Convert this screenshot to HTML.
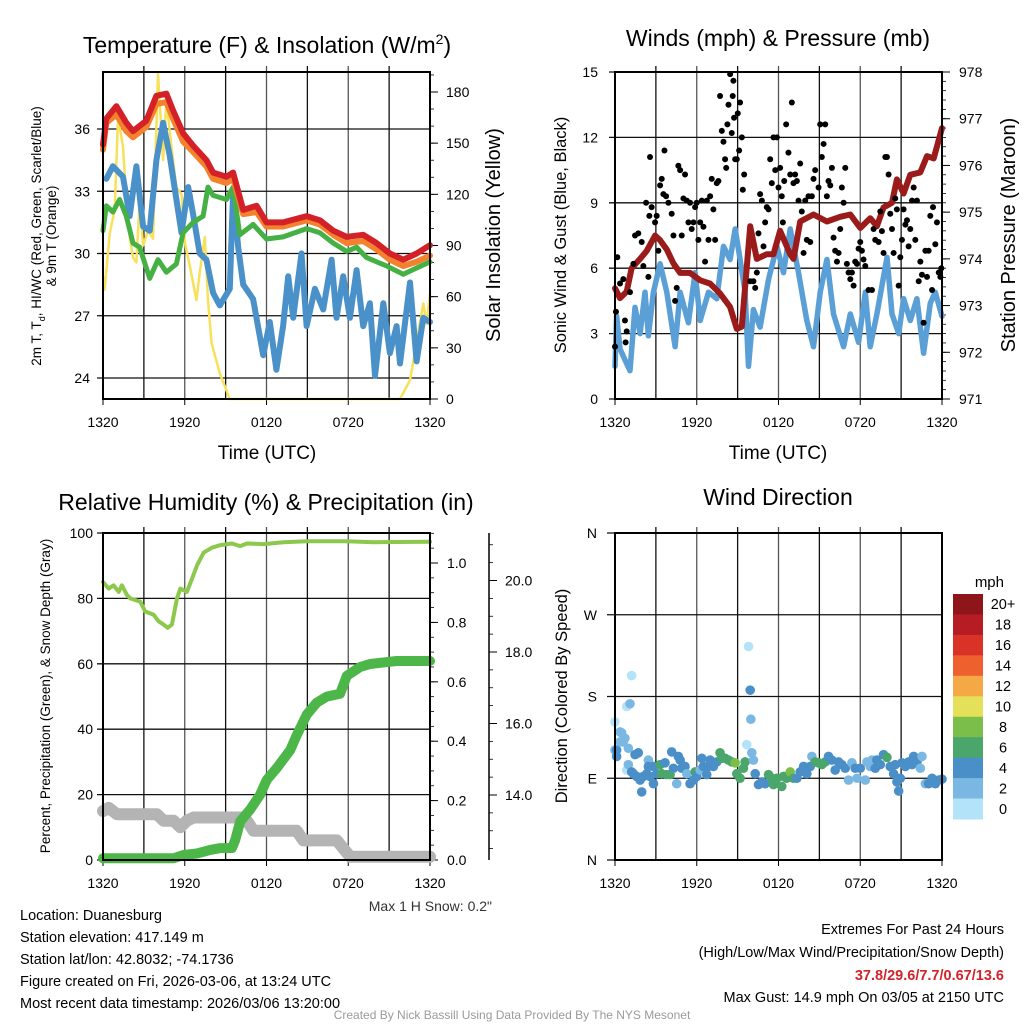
<!DOCTYPE html>
<html><head><meta charset="utf-8"><title>Mesonet Station Meteogram</title>
<style>
html,body{margin:0;padding:0;background:#fff;}
svg{display:block;font-family:"Liberation Sans",Arial,sans-serif;}
</style></head>
<body>
<svg id="chart" width="1024" height="1024" viewBox="0 0 1024 1024" xmlns="http://www.w3.org/2000/svg">
<rect x="0" y="0" width="1024" height="1024" fill="#fff"/>
<g id="layer"></g>
<text x="267" y="53" font-size="23" text-anchor="middle">Temperature (F) &amp; Insolation (W/m<tspan font-size="14" dy="-9">2</tspan><tspan dy="9">)</tspan></text>
<text x="778" y="46" font-size="23" text-anchor="middle">Winds (mph) &amp; Pressure (mb)</text>
<text x="266" y="510" font-size="23" text-anchor="middle">Relative Humidity (%) &amp; Precipitation (in)</text>
<text x="778" y="505" font-size="23" text-anchor="middle">Wind Direction</text>
<text x="267" y="459" font-size="19" text-anchor="middle">Time (UTC)</text>
<text x="778" y="459" font-size="19" text-anchor="middle">Time (UTC)</text>
<text transform="translate(41,236) rotate(-90)" font-size="13.5" text-anchor="middle">2m T, T<tspan font-size="9" dy="4">d</tspan><tspan dy="-4">, HI/WC (Red, Green, Scarlet/Blue)</tspan></text>
<text transform="translate(56,236) rotate(-90)" font-size="13.5" text-anchor="middle">&amp; 9m T (Orange)</text>
<text transform="translate(500,235) rotate(-90)" font-size="20" text-anchor="middle">Solar Insolation (Yellow)</text>
<text transform="translate(566,235) rotate(-90)" font-size="16.5" text-anchor="middle">Sonic Wind &amp; Gust (Blue, Black)</text>
<text transform="translate(1015,235) rotate(-90)" font-size="20" text-anchor="middle">Station Pressure (Maroon)</text>
<text transform="translate(50,696) rotate(-90)" font-size="13.5" text-anchor="middle">Percent, Precipitation (Green), &amp; Snow Depth (Gray)</text>
<text transform="translate(567,696) rotate(-90)" font-size="16.5" text-anchor="middle">Direction (Colored By Speed)</text>
<text x="1004" y="587" font-size="15" text-anchor="end">mph</text>
<text x="492" y="911" font-size="14" text-anchor="end" fill="#333">Max 1 H Snow: 0.2"</text>
<g font-size="14.5">
<text x="20" y="920">Location: Duanesburg</text>
<text x="20" y="942">Station elevation: 417.149 m</text>
<text x="20" y="964">Station lat/lon: 42.8032; -74.1736</text>
<text x="20" y="986">Figure created on Fri, 2026-03-06, at 13:24 UTC</text>
<text x="20" y="1008">Most recent data timestamp: 2026/03/06 13:20:00</text>
</g>
<g font-size="14.5" text-anchor="end">
<text x="1004" y="934">Extremes For Past 24 Hours</text>
<text x="1004" y="957">(High/Low/Max Wind/Precipitation/Snow Depth)</text>
<text x="1004" y="980" fill="#d3232a" font-weight="bold">37.8/29.6/7.7/0.67/13.6</text>
<text x="1004" y="1002">Max Gust: 14.9 mph On 03/05 at 2150 UTC</text>
</g>
<text x="512" y="1019" font-size="12" fill="#9a9a9a" text-anchor="middle">Created By Nick Bassill Using Data Provided By The NYS Mesonet</text>
</svg>
<script>
// ---------- data ----------
const timeTickLabels = ["1320","1920","0120","0720","1320"];
// panel 1
const tempTicks = [24,27,30,33,36];
const solarTicks = [0,30,60,90,120,150,180];
const tempHours = [0,.24,.98,1.71,2.2,3.18,3.92,4.65,5.14,5.88,6.61,7.59,8.08,9.06,9.55,10.29,11.27,12.0,13.22,14.94,15.92,16.9,17.88,19.1,20.08,21.06,22.04,23.02,24];
const tempValues = [35.25,36.5,37.1,36.3,35.9,36.4,37.6,37.7,36.9,35.8,35.2,34.5,33.9,33.7,33.9,32.1,32.3,31.5,31.5,31.8,31.6,31.1,30.8,30.9,30.5,30.0,29.7,30.0,30.4];
const temp9mValues = [35.0,36.3,36.7,35.9,35.6,36.1,37.2,37.3,36.5,35.4,34.9,34.2,33.6,33.4,33.6,31.9,32.0,31.3,31.3,31.6,31.4,30.9,30.5,30.6,30.2,29.7,29.4,29.6,29.9];
const dewHours = [0,.24,.73,1.22,1.71,2.2,2.69,3.43,4.04,4.65,5.39,5.88,6.61,7.35,7.71,8.08,9.06,9.55,10.04,11.02,12.0,13.22,14.94,15.92,16.9,17.88,18.61,19.35,20.82,22.04,23.02,24];
const dewValues = [31.1,32.3,32.0,32.6,31.8,30.5,30.3,28.8,29.7,29.1,29.5,31.0,31.5,31.8,33.2,32.8,32.6,33.2,30.9,31.4,30.7,30.8,31.2,31.0,30.5,30.1,30.3,29.8,29.4,29.0,29.3,29.6];
const wcHours = [.24,.73,1.47,1.96,2.45,2.94,3.43,3.92,4.41,4.9,5.39,5.76,6.25,6.61,7.1,7.59,8.08,8.57,9.31,9.55,9.92,10.29,11.02,11.76,12.24,12.73,13.22,13.59,13.96,14.57,14.94,15.55,16.16,16.78,17.14,17.63,18.12,18.61,19.1,19.59,19.96,20.57,21.06,21.55,21.8,22.53,23.02,23.51,24];
const wcValues = [33.6,34.2,33.7,31.8,34.2,31.3,31.1,34.5,36.3,34.7,32.6,31.0,33.2,31.9,30.0,29.7,28.1,27.5,28.3,33.0,30.3,28.5,27.8,25.1,26.7,24.4,26.5,28.9,26.9,30.0,26.5,28.3,27.3,29.7,26.9,28.9,26.9,29.2,26.5,27.6,24.1,27.6,25.2,26.5,24.7,28.6,24.8,26.9,26.7];
const solarHours = [0,.12,.49,.86,1.1,1.47,1.84,2.2,2.45,2.69,2.94,3.31,3.67,4.04,4.41,4.65,5.02,5.39,5.76,6.0,6.37,6.86,7.1,7.47,7.71,7.96,8.57,9.31,21.8,22.53,23.51,23.75,24];
const solarValues = [72,64,97,111,165,148,101,83,80,117,90,99,94,191,140,175,148,124,120,92,78,58,74,95,58,33,15,0,0,11,56,44,62];
// panel 2
const windTicks = [0,3,6,9,12,15];
const presTicks = [971,972,973,974,975,976,977,978];
const presHours = [0,.37,.86,1.22,1.84,2.33,2.94,3.31,3.8,4.29,4.78,5.51,6.25,6.98,7.71,8.45,8.94,9.31,9.92,10.41,11.14,11.63,12.12,12.86,13.1,13.59,14.57,15.55,16.53,17.27,18.0,18.73,19.22,19.71,20.33,20.69,21.18,21.67,22.41,22.9,23.39,24];
const presValues = [973.37,973.16,973.3,973.8,974.0,974.17,974.5,974.4,974.2,973.9,973.7,973.7,973.54,973.47,973.26,972.97,972.5,972.55,974.7,974.0,974.1,974.1,974.6,974.1,974.0,974.8,974.95,974.8,974.9,974.95,974.66,974.87,974.7,975.1,975.2,975.7,975.4,975.8,975.85,976.2,976.15,976.8];
const windHours = [0,.12,.37,.73,1.1,1.47,1.84,2.2,2.45,2.82,3.31,3.8,4.41,4.78,5.39,5.88,6.25,6.86,7.47,7.96,8.45,8.82,9.18,9.55,9.8,10.16,10.65,11.27,11.88,12.37,12.86,13.47,14.08,14.57,15.06,15.55,16.04,16.78,17.27,17.88,18.37,18.73,19.22,19.96,20.33,20.82,21.18,21.67,22.16,22.65,23.14,23.51,24];
const windValues = [1.5,3.8,2.3,1.8,1.3,4.2,3.0,4.9,2.9,4.9,6.2,4.9,2.4,4.9,3.5,5.8,3.6,4.9,4.6,7.0,6.4,7.8,6.4,4.9,1.5,4.1,3.3,5.5,7.0,5.8,7.8,5.8,3.6,2.4,4.9,6.4,3.9,2.4,3.9,2.6,4.9,2.4,3.9,6.5,3.9,3.0,4.6,3.6,4.6,2.1,4.4,4.9,3.8];
const gustHours = [0,.07,.17,.37,.61,.73,.78,.86,1.10,1.35,1.47,1.71,1.96,2.08,2.28,2.45,2.52,2.57,2.69,2.94,3.06,3.18,3.31,3.43,3.55,3.63,3.75,3.92,4.16,4.29,4.41,4.53,4.65,4.78,4.90,5.02,5.14,5.27,5.39,5.51,5.63,5.76,5.88,6.00,6.12,6.25,6.37,6.49,6.61,6.74,6.86,6.98,7.10,7.22,7.35,7.47,7.59,7.71,7.84,7.96,8.08,8.16,8.25,8.33,8.45,8.57,8.64,8.69,8.74,8.82,8.94,9.01,9.11,9.18,9.31,9.38,9.48,9.92,10.16,10.29,10.41,10.53,10.65,10.78,10.90,11.02,11.14,11.27,11.39,11.51,11.63,11.76,11.88,12.0,12.12,12.24,12.32,12.42,12.56,12.73,12.86,12.98,13.1,13.22,13.35,13.47,13.59,13.71,13.84,13.96,14.08,14.2,14.33,14.45,14.57,14.69,14.94,15.06,15.18,15.31,15.43,15.55,15.67,15.8,15.92,16.04,16.16,16.29,16.41,16.53,16.65,16.78,16.9,17.02,17.14,17.27,17.39,17.51,17.63,17.76,17.88,18.0,18.12,18.24,18.37,18.61,18.86,18.98,19.1,19.35,19.47,19.59,19.71,19.84,19.96,20.08,20.2,20.33,20.45,20.57,20.69,20.82,20.94,21.06,21.18,21.31,21.43,21.55,21.67,21.8,21.92,22.04,22.16,22.29,22.41,22.53,22.65,22.78,22.9,23.02,23.14,23.27,23.34,23.51,23.63,23.76,23.88,23.95];
const gustValues = [2.4,4.0,6.5,5.3,5.5,3.6,2.6,3.1,4.9,6.2,7.5,7.6,7.2,6.1,9.0,5.6,8.4,11.1,8.8,8.1,8.4,6.8,9.8,10.1,9.4,11.4,9.3,9.0,8.5,7.5,4.5,5.1,10.7,10.5,7.5,9.2,10.3,9.1,8.1,9.0,7.8,8.1,8.8,9.0,7.3,8.1,9.1,7.9,6.3,9.1,7.3,9.3,10.1,8.7,7.3,9.9,10.0,13.9,12.3,11.8,11.0,10.6,12.6,13.5,14.9,12.2,13.9,14.6,12.9,11.0,11.0,13.1,11.4,13.6,12.0,9.6,10.3,5.4,5.4,5.1,5.8,7.6,9.4,9.1,7.0,8.1,8.8,8.7,11.0,9.9,12.0,10.5,12.0,9.7,10.6,9.3,8.1,10.0,12.6,11.3,10.3,13.6,9.9,10.3,10.0,9.1,10.8,8.6,6.7,9.1,7.3,9.3,7.2,9.3,10.1,10.5,9.7,12.6,11.1,11.7,12.6,9.3,10.0,9.8,10.6,7.4,6.8,6.3,6.7,7.8,9.7,9.0,10.6,6.2,5.8,5.5,5.8,5.2,6.3,6.2,6.9,7.2,6.8,6.4,6.1,5.0,5.0,7.8,7.3,7.2,8.6,7.7,6.7,11.1,11.1,10.3,8.5,7.8,6.7,9.2,8.7,5.2,6.5,7.3,8.7,8.0,8.2,7.0,7.8,9.1,9.7,7.3,9.1,5.4,6.3,5.7,3.5,6.8,5.6,6.8,8.4,5.0,8.8,7.1,8.1,5.8,5.6,6.0];
// panel 3
const pctTicks = [0,20,40,60,80,100];
const precipTicks = [0.0,0.2,0.4,0.6,0.8,1.0];
const snowTicks = [14.0,16.0,18.0,20.0];
const rhHours = [0,.42,.78,1.15,1.39,1.76,2.0,2.74,3.1,3.72,4.08,4.45,4.74,5.06,5.43,5.67,6.16,6.53,6.89,7.38,7.99,8.6,9.46,10.07,10.56,11.78,13.25,14.96,17.89,19.85,24];
const rhValues = [85,83,84,82,84,81,80,79,76,75,73,72,71,72,80,83,82,86,90,94,95.5,96.3,96.8,96,96.8,96.6,97.2,97.5,97.5,97.2,97.3];
const precipHours = [0,5.18,5.91,6.89,7.87,8.6,9.46,9.7,10.07,10.8,11.53,12.02,12.76,13.74,14.22,14.96,15.69,16.42,17.4,17.89,18.87,19.6,21.55,24];
const precipValues = [.006,.006,.017,.022,.034,.04,.04,.067,.13,.17,.22,.27,.31,.37,.42,.49,.53,.55,.56,.62,.65,.66,.67,.67];
const snowHours = [0,.42,1.03,2.0,3.96,4.45,5.18,5.67,6.16,6.65,10.31,10.56,11.05,14.22,14.71,17.16,18.14,24];
const snowValues = [13.55,13.64,13.46,13.46,13.46,13.28,13.28,13.1,13.28,13.37,13.37,13.28,13.0,13.0,12.73,12.73,12.27,12.27];
// panel 4
const dirTickLabels = ["N","E","S","W","N"];
const dirHours = [0,0,.12,.12,.37,.49,.37,.61,.73,.86,1.10,1.22,.98,.86,.98,1.22,1.35,1.47,1.71,1.59,1.84,1.96,2.08,2.33,2.45,2.45,2.57,2.82,2.82,3.06,3.31,3.43,3.67,3.8,4.04,4.16,4.29,4.53,4.65,4.78,4.9,5.14,5.27,5.51,5.76,5.88,6.0,6.25,6.37,6.49,6.73,6.86,6.98,7.22,7.47,7.71,7.84,8.08,8.33,8.57,8.82,8.94,9.18,9.43,9.55,9.67,9.8,9.92,9.97,10.04,10.16,10.29,10.53,10.78,11.02,11.27,11.51,11.63,11.88,12.24,12.37,12.61,12.86,13.1,13.35,13.59,13.84,14.08,14.33,14.45,14.69,14.94,15.18,15.43,15.67,15.92,16.16,16.41,16.65,16.9,17.14,17.39,17.63,17.76,18.0,18.37,18.49,18.73,18.86,19.1,19.22,19.47,19.71,19.96,20.2,20.45,20.57,20.69,20.82,20.94,21.06,21.31,21.55,21.8,21.92,22.16,22.41,22.53,22.78,23.02,23.27,23.51,23.76,24];
const dirDegrees = [152,121,121,114,141,140,130,130,134,169,172,203,123,99,105,97,95,116,118,92,88,75,92,95,110,103,92,84,103,95,105,95,107,94,94,119,101,84,114,110,101,103,95,84,88,97,92,99,112,103,94,103,110,103,108,118,112,112,110,108,107,95,90,101,108,127,235,187,155,118,110,95,83,86,84,94,90,83,90,81,92,90,97,90,90,97,103,95,103,114,108,107,105,108,114,110,99,108,105,101,88,107,101,90,101,88,108,103,110,101,110,105,116,113,103,95,105,86,76,90,107,103,108,105,114,108,101,114,84,84,90,84,88,89];
const dirSpeeds = [1,3,5,5,3,3,3,3,3,1,3,1,3,1,3,5,5,5,5,5,5,5,5,5,3,5,5,5,5,5,7,7,5,7,7,5,5,3,5,5,5,5,3,5,5,7,5,3,5,5,5,5,5,5,5,7,7,7,7,7,9,7,7,7,7,1,1,5,3,3,3,5,5,5,5,7,7,7,7,7,7,7,9,7,5,5,5,5,5,3,7,7,7,7,5,5,5,5,5,5,3,3,5,3,5,3,3,3,3,5,5,5,5,7,5,5,5,5,5,5,5,5,5,5,5,5,3,3,3,5,5,5,5,5];
const cbLabels = ["20+","18","16","14","12","10","8","6","4","2","0"];
const cbColors = ["#8e1519","#b51c23","#d93226","#ee612e","#f5a846","#e5e05a","#7bbf4a","#4aa66a","#4a8fc8","#7ab8e3","#b3e3f8"];

// ---------- helpers ----------
const NS = "http://www.w3.org/2000/svg";
const layer = document.getElementById("layer");
function mk(tag, attrs, parent) {
  const el = document.createElementNS(NS, tag);
  for (const k in attrs) el.setAttribute(k, attrs[k]);
  (parent || layer).appendChild(el);
  return el;
}
function txt(x, y, s, anchor, size, parent) {
  const t = mk("text", {x: x, y: y, "text-anchor": anchor, "font-size": size}, parent);
  t.textContent = s;
  return t;
}
function polyline(hours, vals, xf, yf, color, w, parent) {
  const pts = hours.map((h, i) => xf(h).toFixed(1) + "," + yf(vals[i]).toFixed(1)).join(" ");
  return mk("polyline", {points: pts, fill: "none", stroke: color, "stroke-width": w, "stroke-linejoin": "round", "stroke-linecap": "round"}, parent);
}

function panel(name, X0, X1, Y0, Y1) {
  const g = mk("g", {});
  
  
  const xf = h => X0 + h / 24 * (X1 - X0);
  for (let h = 3; h < 24; h += 3) {
    const l = mk("line", {x1: xf(h), x2: xf(h), y1: Y0 - 6, y2: Y1, stroke: (h % 6 === 0) ? "#555" : "#111", "stroke-width": 1.3}, g);
    
    
  }
  for (let i = 0; i < timeTickLabels.length; i++) {
    const h = i * 6;
    const tk = mk("line", {x1: xf(h), x2: xf(h), y1: Y1, y2: Y1 + 6, stroke: "#000", "stroke-width": 1}, g);
    
    
    const lab = txt(xf(h), Y1 + 28, timeTickLabels[i], "middle", 14, g);
    
    
  }
  return {g, xf};
}
function frame(g, X0, X1, Y0, Y1) {
  const r = mk("rect", {x: X0, y: Y0, width: X1 - X0, height: Y1 - Y0, fill: "none", stroke: "#000", "stroke-width": 2}, g);
  
  
}
function hgrid(g, X0, X1, y, lbl, lx) {
  const l = mk("line", {x1: X0 - 6, x2: X1, y1: y, y2: y, stroke: "#111", "stroke-width": 1.3}, g);
  
  
  const t = txt(lx, y + 5, lbl, "end", 14, g);
  
  
}
function rightAxis(g, X, Y0, Y1, yf, min, max, minorStep, ticks, fmt, lx, name, tickDir) {
  const ax = mk("g", {}, g);
  
  
  const n = Math.round((max - min) / minorStep);
  for (let i = 0; i <= n; i++) {
    const v = min + i * minorStep;
    const y = yf(v);
    if (y < Y0 - 0.5 || y > Y1 + 0.5) continue;
    const m = mk("line", {x1: X, x2: X + 4 * tickDir, y1: y, y2: y, stroke: "#000", "stroke-width": 0.8}, ax);
    
    
  }
  ticks.forEach(v => {
    const y = yf(v);
    const t = mk("line", {x1: X, x2: X + 8 * tickDir, y1: y, y2: y, stroke: "#000", "stroke-width": 1}, ax);
    
    
    const lab = txt(lx, y + 5, fmt(v), "start", 14, ax);
    
    
  });
}

// ---------- panel 1: temperature ----------
(function () {
  const X0 = 103, X1 = 430, Y0 = 72, Y1 = 399;
  const {g, xf} = panel("temperature-panel", X0, X1, Y0, Y1);
  const ty = v => 129 + (36 - v) * 20.75;
  const sy = v => 399 - v * 1.7056;
  tempTicks.forEach(v => hgrid(g, X0, X1, ty(v), String(v), 90));
  rightAxis(g, X1, Y0, Y1, sy, 0, 190, 10, solarTicks, v => String(v), 446, "solar-axis", 1);
  const s1 = polyline(solarHours, solarValues, xf, sy, "#f7e15a", 2.5, g);
  
  
  const s2 = polyline(wcHours, wcValues, xf, ty, "#4a90c9", 6, g);
  
  
  const s3 = polyline(dewHours, dewValues, xf, ty, "#45b043", 5, g);
  
  
  const s4 = polyline(tempHours, temp9mValues, xf, ty, "#f3812d", 6, g);
  
  
  const s5 = polyline(tempHours, tempValues, xf, ty, "#d42127", 6, g);
  
  
  frame(g, X0, X1, Y0, Y1);
})();

// ---------- panel 2: winds ----------
(function () {
  const X0 = 615, X1 = 942, Y0 = 72, Y1 = 399;
  const {g, xf} = panel("winds-panel", X0, X1, Y0, Y1);
  const wy = v => 399 - v * 21.8;
  const py = v => 72 + (978 - v) * (327 / 7);
  windTicks.forEach(v => hgrid(g, X0, X1, wy(v), String(v), 598));
  rightAxis(g, X1, Y0, Y1, py, 971, 978, 0.2, presTicks, v => String(v), 959, "pressure-axis", 1);
  const w = polyline(windHours, windValues, xf, wy, "#5a9fd6", 5.5, g);
  
  
  const p = polyline(presHours, presValues, xf, py, "#9b1b1b", 6, g);
  
  
  gustHours.forEach((h, i) => {
    const c = mk("circle", {cx: xf(h), cy: wy(gustValues[i]), r: 3, fill: "#000"}, g);
    
    
  });
  frame(g, X0, X1, Y0, Y1);
})();

// ---------- panel 3: humidity ----------
(function () {
  const X0 = 103, X1 = 430, Y0 = 533, Y1 = 860;
  const {g, xf} = panel("humidity-panel", X0, X1, Y0, Y1);
  const hy = v => 860 - v * 3.27;
  const ry = v => 860 - v * 297;
  const sny = v => 795 - (v - 14) * 35.75;
  pctTicks.forEach(v => hgrid(g, X0, X1, hy(v), String(v), 93));
  rightAxis(g, X1, Y0, Y1, ry, 0, 1.1, 0.05, precipTicks, v => v.toFixed(1), 447, "precip-axis", 1);
  const sa = mk("line", {x1: 489, x2: 489, y1: Y0, y2: Y1, stroke: "#000", "stroke-width": 1.5}, g);
  
  
  rightAxis(g, 489, Y0, Y1, sny, 12.5, 21, 0.5, snowTicks, v => v.toFixed(1), 505, "snow-axis", 1);
  const s = polyline(snowHours, snowValues, xf, sny, "#b4b4b4", 12, g);
  
  
  const p = polyline(precipHours, precipValues, xf, ry, "#4cb748", 10, g);
  
  
  const r = polyline(rhHours, rhValues, xf, hy, "#8cc84b", 4, g);
  
  
  frame(g, X0, X1, Y0, Y1);
})();

// ---------- panel 4: wind direction ----------
(function () {
  const X0 = 615, X1 = 942, Y0 = 533, Y1 = 860;
  const {g, xf} = panel("wind-direction-panel", X0, X1, Y0, Y1);
  const dy = d => 860 - d * (327 / 360);
  dirTickLabels.forEach((lab, i) => {
    const y = dy(i * 90);
    const l = mk("line", {x1: X0 - 8, x2: X1, y1: y, y2: y, stroke: "#111", "stroke-width": 1.3}, g);
    
    
    const t = txt(597, y + 5, lab, "end", 14, g);
    
    
  });
  dirHours.forEach((h, i) => {
    const idx = 10 - Math.min(10, Math.floor(dirSpeeds[i] / 2));
    const c = mk("circle", {cx: xf(h), cy: dy(dirDegrees[i]), r: 4.8, fill: cbColors[idx]}, g);
    
    
  });
  frame(g, X0, X1, Y0, Y1);
  const cb = mk("g", {});
  
  
  const bh = 225 / cbLabels.length;
  cbLabels.forEach((lab, i) => {
    const r = mk("rect", {x: 953, y: 594 + i * bh, width: 30, height: bh + 0.5, fill: cbColors[i]}, cb);
    
    
    const t = txt(1003, 594 + i * bh + bh / 2 + 5, lab, "middle", 14.5, cb);
    
    
  });
})();
</script>
</body></html>
